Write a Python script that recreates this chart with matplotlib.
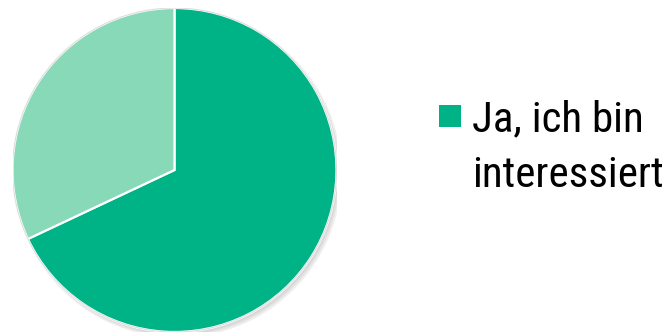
import matplotlib
matplotlib.use("Agg")
import matplotlib.pyplot as plt
from matplotlib.patches import Rectangle, Circle
from matplotlib import font_manager

# Survey answers (share of respondents, %)
categories = ["Ja, ich bin\ninteressiert", "Nein"]
shares = [68, 32]
colors = ["#00B386", "#88D9B8"]

names = {f.name for f in font_manager.fontManager.ttflist}
narrow = [n for n in ("Liberation Sans Narrow", "Arial Narrow", "Roboto Condensed",
                      "Open Sans Condensed") if n in names]
family = narrow[0] if narrow else "Liberation Sans"
label_size = 31 if narrow else 28

W, H = 672, 335
fig = plt.figure(figsize=(W / 100, H / 100), dpi=100)
fig.patch.set_facecolor("white")

# Pie axes: centre (174.5, 170) px from the top-left, radius 162 px
cx, cy, r = 174.5, H - 170, 162
ax = fig.add_axes([(cx - r) / W, (cy - r) / H, 2 * r / W, 2 * r / H])
ax.set_aspect("equal")
ax.axis("off")

# soft drop shadow under the disc
for i, a in enumerate([0.05, 0.05, 0.06]):
    ax.add_patch(Circle((0.012 + i * 0.004, -0.016 - i * 0.004), 1.0 + i * 0.006,
                        color="black", alpha=a, lw=0, zorder=0))

wedges, _ = ax.pie(shares, colors=colors, startangle=90, counterclock=False,
                   radius=1.0, center=(0, 0),
                   wedgeprops=dict(edgecolor="white", linewidth=1.6))
for w in wedges:
    w.set_zorder(2)
ax.add_patch(Circle((0, 0), 1.0, fill=False, ec="#DDDDDD", lw=0.8, zorder=3))
ax.set_xlim(-1, 1)
ax.set_ylim(-1, 1)

# Legend entry (only the first category fits in the frame)
sq = 22
fig.patches.append(Rectangle((439 / W, (H - 127) / H), sq / W, sq / H,
                             transform=fig.transFigure, facecolor=colors[0],
                             edgecolor="none", figure=fig))
fig.text(472 / W, (H - 187) / H, categories[0], family=family, fontsize=label_size,
         color="black", ha="left", va="baseline", linespacing=1.45)

fig.savefig("out.png", dpi=100, facecolor="white")
